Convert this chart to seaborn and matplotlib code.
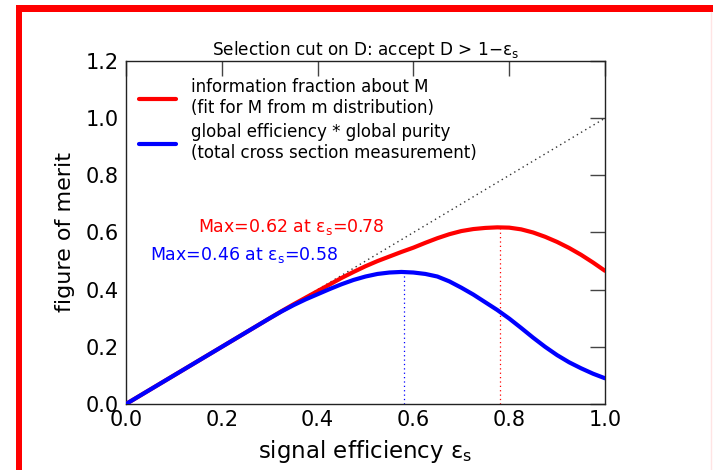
import matplotlib
matplotlib.use("Agg")
import matplotlib.pyplot as plt
from matplotlib.patches import Rectangle
from matplotlib.lines import Line2D
import seaborn as sns
import pandas as pd

# Signal efficiency scan (cut on D: accept D > 1 - eps_s)
eff = [0.0, 0.05, 0.1, 0.15, 0.2, 0.25, 0.3, 0.325, 0.35, 0.375, 0.4, 0.425,
       0.45, 0.475, 0.5, 0.525, 0.55, 0.575, 0.6, 0.625, 0.65, 0.675, 0.7,
       0.725, 0.75, 0.775, 0.8, 0.825, 0.85, 0.875, 0.9, 0.925, 0.95, 0.975, 1.0]
# information fraction about M (fit for M from m distribution)
info_frac = [0.0, 0.05, 0.1, 0.15, 0.2, 0.25, 0.300, 0.325, 0.349, 0.372, 0.395,
             0.418, 0.441, 0.462, 0.482, 0.500, 0.516, 0.532, 0.547, 0.564, 0.580,
             0.594, 0.605, 0.612, 0.616, 0.618, 0.617, 0.611, 0.600, 0.585, 0.567,
             0.546, 0.522, 0.495, 0.466]
# global efficiency * global purity (total cross section measurement)
eff_pur = [0.0, 0.05, 0.1, 0.15, 0.2, 0.25, 0.300, 0.324, 0.346, 0.366, 0.384,
           0.402, 0.419, 0.434, 0.446, 0.455, 0.460, 0.462, 0.460, 0.455, 0.446,
           0.429, 0.407, 0.383, 0.356, 0.329, 0.299, 0.266, 0.232, 0.200, 0.171,
           0.146, 0.125, 0.106, 0.090]

# maxima of the two figures of merit
max_info = (0.78, 0.62)
max_pur = (0.58, 0.46)

series_names = ["information fraction about M\n(fit for M from m distribution)",
                "global efficiency * global purity\n(total cross section measurement)"]
colors = ["#ff0000", "#0000ff"]

df = pd.DataFrame({
    "eff": eff * 2,
    "fom": info_frac + eff_pur,
    "series": [series_names[0]] * len(eff) + [series_names[1]] * len(eff),
})

sns.set_style("white")
plt.rcParams["font.family"] = ["DejaVu Sans"]
plt.rcParams["mathtext.fontset"] = "dejavusans"
for key in ["text.color", "axes.labelcolor", "xtick.color", "ytick.color"]:
    plt.rcParams[key] = "black"

EPS = r"ε$_\mathregular{s}$"

fig = plt.figure(figsize=(7.13, 4.70), dpi=100)
ax = fig.add_axes([126 / 713, 66 / 470, 479 / 713, 343 / 470])

# diagonal reference line
ax.plot([0, 1], [0, 1], ls=(0, (1, 2.5)), color="#333333", lw=1.0, zorder=1)

sns.lineplot(data=df, x="eff", y="fom", hue="series", palette=colors,
             lw=3.0, ax=ax, legend=False, zorder=3)

# dotted markers at the maxima
ax.plot([max_info[0], max_info[0]], [0, max_info[1]], ls=(0, (1, 2.5)),
        color="#ff0000", lw=0.9, zorder=2)
ax.plot([max_pur[0], max_pur[0]], [0, max_pur[1]], ls=(0, (1, 2.5)),
        color="#0000ff", lw=0.9, zorder=2)

ax.text(0.15, max_info[1], "Max=%.2f at %s=%.2f" % (max_info[1], EPS, max_info[0]),
        color="#ff0000", fontsize=12.5, va="center", ha="left")
ax.text(0.05, 0.52, "Max=%.2f at %s=%.2f" % (max_pur[1], EPS, max_pur[0]),
        color="#0000ff", fontsize=12.5, va="center", ha="left")

handles = [Line2D([], [], color=c, lw=3.0) for c in colors]
ax.legend(handles, series_names, loc="upper left", frameon=False, fontsize=12,
          handlelength=2.2, handletextpad=0.9, labelspacing=0.35,
          bbox_to_anchor=(-0.009, 1.0), borderaxespad=0.65)

ax.set_xlim(0, 1.0)
ax.set_ylim(0, 1.2)
ax.set_xticks([0.0, 0.2, 0.4, 0.6, 0.8, 1.0])
ax.set_yticks([0.0, 0.2, 0.4, 0.6, 0.8, 1.0, 1.2])
ax.set_xticklabels(["0.0", "0.2", "0.4", "0.6", "0.8", "1.0"])
ax.set_yticklabels(["0.0", "0.2", "0.4", "0.6", "0.8", "1.0", "1.2"])
ax.tick_params(axis="both", direction="in", length=10.5, width=1, color="#444444",
               labelsize=15, top=True, right=True)
ax.tick_params(axis="x", pad=4)
ax.tick_params(axis="y", pad=5)
for s in ax.spines.values():
    s.set_visible(True)
    s.set_color("#222222")
    s.set_linewidth(1.0)

ax.set_title("Selection cut on D: accept D > 1−" + EPS, fontsize=12.2, pad=4)
ax.set_xlabel("signal efficiency " + EPS, fontsize=16.5, labelpad=6)
ax.set_ylabel("figure of merit", fontsize=16, labelpad=8)

# red frame around the figure
fig.add_artist(Rectangle((16 / 713, 0), 6 / 713, 465 / 470, transform=fig.transFigure,
                         facecolor="#ff0000", edgecolor="none"))
fig.add_artist(Rectangle((16 / 713, 458 / 470), 697 / 713, 7 / 470, transform=fig.transFigure,
                         facecolor="#ff0000", edgecolor="none"))
fig.add_artist(Line2D([711 / 713, 711 / 713], [0, 458 / 470], transform=fig.transFigure,
                      color="#ffe4e4", lw=1))

fig.savefig("out.png", dpi=100)
